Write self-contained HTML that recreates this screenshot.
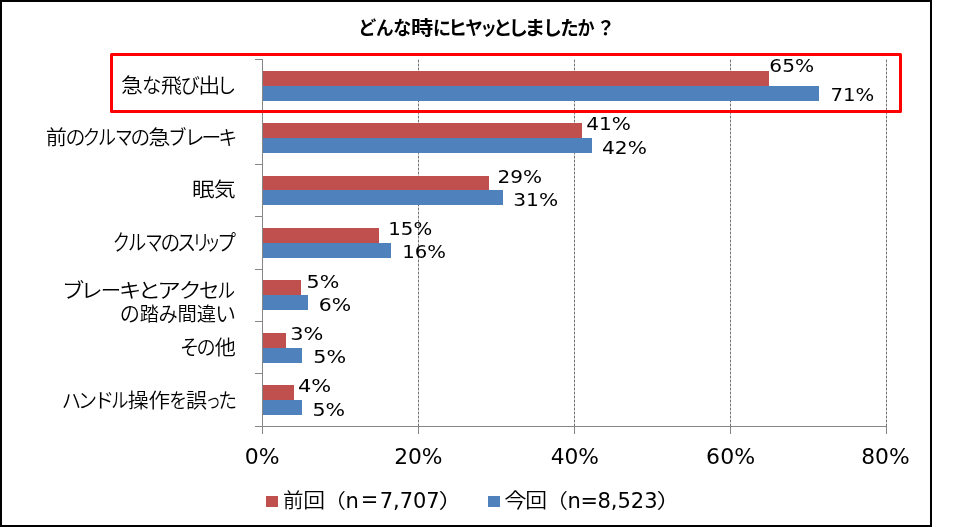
<!DOCTYPE html>
<html lang="ja">
<head>
<meta charset="utf-8">
<title>どんな時にヒヤッとしましたか？</title>
<style>
html,body{margin:0;padding:0;background:#fff;}
body{width:975px;height:527px;overflow:hidden;}
svg{display:block;}
text{fill:#000;}
.cjk{font-family:"Liberation Sans","Noto Sans CJK JP",sans-serif;}
.num{font-family:"DejaVu Sans","Liberation Sans",sans-serif;}
.mix{font-family:"DejaVu Sans","Liberation Sans","Noto Sans CJK JP",sans-serif;}
</style>
</head>
<body>
<svg width="975" height="527" viewBox="0 0 975 527">
<rect x="0" y="0" width="975" height="527" fill="#fff"/>
<!-- chart frame -->
<rect x="1" y="1" width="930" height="525" fill="none" stroke="#000" stroke-width="2" shape-rendering="crispEdges"/>
<!-- gridlines -->
<g stroke="#727272" stroke-width="1" stroke-dasharray="2.75 1.25" stroke-dashoffset="3.375">
<line x1="418.5" y1="59" x2="418.5" y2="426"/>
<line x1="574.5" y1="59" x2="574.5" y2="426"/>
<line x1="730.5" y1="59" x2="730.5" y2="426"/>
<line x1="886.5" y1="59" x2="886.5" y2="426"/>
</g>
<!-- bars -->
<g shape-rendering="crispEdges">
<rect x="263" y="71" width="506" height="15" fill="#C0504D"/>
<rect x="263" y="86" width="556" height="15" fill="#4F81BD"/>
<rect x="263" y="123" width="319" height="15" fill="#C0504D"/>
<rect x="263" y="138" width="329" height="15" fill="#4F81BD"/>
<rect x="263" y="176" width="226" height="14" fill="#C0504D"/>
<rect x="263" y="190" width="240" height="15" fill="#4F81BD"/>
<rect x="263" y="228" width="116" height="15" fill="#C0504D"/>
<rect x="263" y="243" width="128" height="15" fill="#4F81BD"/>
<rect x="263" y="280" width="38" height="15" fill="#C0504D"/>
<rect x="263" y="295" width="45" height="15" fill="#4F81BD"/>
<rect x="263" y="333" width="23" height="15" fill="#C0504D"/>
<rect x="263" y="348" width="39" height="15" fill="#4F81BD"/>
<rect x="263" y="385" width="31" height="15" fill="#C0504D"/>
<rect x="263" y="400" width="39" height="15" fill="#4F81BD"/>
</g>
<!-- axes -->
<g stroke="#868686" stroke-width="1" fill="none" shape-rendering="crispEdges">
<line x1="262.5" y1="59" x2="262.5" y2="434"/>
<line x1="255" y1="426.5" x2="887" y2="426.5"/>
<line x1="255" y1="59.5" x2="263" y2="59.5"/>
<line x1="255" y1="111.5" x2="263" y2="111.5"/>
<line x1="255" y1="164.5" x2="263" y2="164.5"/>
<line x1="255" y1="216.5" x2="263" y2="216.5"/>
<line x1="255" y1="269.5" x2="263" y2="269.5"/>
<line x1="255" y1="321.5" x2="263" y2="321.5"/>
<line x1="255" y1="373.5" x2="263" y2="373.5"/>
<line x1="418.5" y1="426" x2="418.5" y2="434"/>
<line x1="574.5" y1="426" x2="574.5" y2="434"/>
<line x1="730.5" y1="426" x2="730.5" y2="434"/>
<line x1="886.5" y1="426" x2="886.5" y2="434"/>
</g>
<!-- highlight box -->
<rect x="111.5" y="54.5" width="789" height="57" fill="none" stroke="#FF0000" stroke-width="3" stroke-linejoin="round"/>
<!-- legend markers -->
<rect x="266" y="496" width="12" height="11" fill="#C0504D" shape-rendering="crispEdges"/>
<rect x="488" y="496" width="12" height="11" fill="#4F81BD" shape-rendering="crispEdges"/>
<!-- text -->
<text class="cjk" y="34.65" font-size="19.17" font-weight="bold" aria-label="どんな時にヒヤッとしましたか？"><tspan x="358.2" textLength="18.08" lengthAdjust="spacingAndGlyphs">ど</tspan><tspan x="375.98" textLength="17.62" lengthAdjust="spacingAndGlyphs">ん</tspan><tspan x="393.32" textLength="18.03" lengthAdjust="spacingAndGlyphs">な</tspan><tspan x="411.04" textLength="22.32" lengthAdjust="spacingAndGlyphs">時</tspan><tspan x="433.02" textLength="18.04" lengthAdjust="spacingAndGlyphs">に</tspan><tspan x="448.24" textLength="18.71" lengthAdjust="spacingAndGlyphs">ヒ</tspan><tspan x="465.19" textLength="17.47" lengthAdjust="spacingAndGlyphs">ヤ</tspan><tspan x="480.55" textLength="16.3" lengthAdjust="spacingAndGlyphs">ッ</tspan><tspan x="493.21" textLength="19.08" lengthAdjust="spacingAndGlyphs">と</tspan><tspan x="508.64" textLength="19.44" lengthAdjust="spacingAndGlyphs">し</tspan><tspan x="524.56" textLength="20.86" lengthAdjust="spacingAndGlyphs">ま</tspan><tspan x="543.06" textLength="18.87" lengthAdjust="spacingAndGlyphs">し</tspan><tspan x="560.31" textLength="18.49" lengthAdjust="spacingAndGlyphs">た</tspan><tspan x="577.41" textLength="17.05" lengthAdjust="spacingAndGlyphs">か</tspan><tspan x="596.22" textLength="18.86" lengthAdjust="spacingAndGlyphs">？</tspan></text>
<text class="cjk" y="93.2" font-size="20.41" font-weight="350" aria-label="急な飛び出し"><tspan x="121.13" textLength="21.84" lengthAdjust="spacingAndGlyphs">急</tspan><tspan x="141.89" textLength="19.45" lengthAdjust="spacingAndGlyphs">な</tspan><tspan x="161.03" textLength="20.94" lengthAdjust="spacingAndGlyphs">飛</tspan><tspan x="180.6" textLength="19.43" lengthAdjust="spacingAndGlyphs">び</tspan><tspan x="198.37" textLength="22.06" lengthAdjust="spacingAndGlyphs">出</tspan><tspan x="216.98" textLength="19.25" lengthAdjust="spacingAndGlyphs">し</tspan></text>
<text class="cjk" y="145.3" font-size="20.52" font-weight="350" aria-label="前のクルマの急ブレーキ"><tspan x="45.87" textLength="21.2" lengthAdjust="spacingAndGlyphs">前</tspan><tspan x="65.56" textLength="19.91" lengthAdjust="spacingAndGlyphs">の</tspan><tspan x="82.77" textLength="17.62" lengthAdjust="spacingAndGlyphs">ク</tspan><tspan x="97.98" textLength="18.02" lengthAdjust="spacingAndGlyphs">ル</tspan><tspan x="114.97" textLength="17.65" lengthAdjust="spacingAndGlyphs">マ</tspan><tspan x="130.38" textLength="19.66" lengthAdjust="spacingAndGlyphs">の</tspan><tspan x="148.32" textLength="22.2" lengthAdjust="spacingAndGlyphs">急</tspan><tspan x="168.36" textLength="18.24" lengthAdjust="spacingAndGlyphs">ブ</tspan><tspan x="184.74" textLength="19.71" lengthAdjust="spacingAndGlyphs">レ</tspan><tspan x="201.58" textLength="19.71" lengthAdjust="spacingAndGlyphs">ー</tspan><tspan x="218.45" textLength="18.73" lengthAdjust="spacingAndGlyphs">キ</tspan></text>
<text class="cjk" y="197.28" font-size="20.2" font-weight="350" aria-label="眠気"><tspan x="192.13" textLength="22.47" lengthAdjust="spacingAndGlyphs">眠</tspan><tspan x="213.72" textLength="21.92" lengthAdjust="spacingAndGlyphs">気</tspan></text>
<text class="cjk" y="250.48" font-size="21.39" font-weight="350" aria-label="クルマのスリップ"><tspan x="112.87" textLength="17.36" lengthAdjust="spacingAndGlyphs">ク</tspan><tspan x="127.91" textLength="18.26" lengthAdjust="spacingAndGlyphs">ル</tspan><tspan x="145.16" textLength="17.47" lengthAdjust="spacingAndGlyphs">マ</tspan><tspan x="160.56" textLength="19.7" lengthAdjust="spacingAndGlyphs">の</tspan><tspan x="176.99" textLength="19.14" lengthAdjust="spacingAndGlyphs">ス</tspan><tspan x="192.28" textLength="17.65" lengthAdjust="spacingAndGlyphs">リ</tspan><tspan x="204.21" textLength="16.49" lengthAdjust="spacingAndGlyphs">ッ</tspan><tspan x="217.27" textLength="18.76" lengthAdjust="spacingAndGlyphs">プ</tspan></text>
<text class="cjk" y="298.02" font-size="20.06" font-weight="350" aria-label="ブレーキとアクセル"><tspan x="62.05" textLength="22.25" lengthAdjust="spacingAndGlyphs">ブ</tspan><tspan x="80.53" textLength="22.14" lengthAdjust="spacingAndGlyphs">レ</tspan><tspan x="100.86" textLength="20.44" lengthAdjust="spacingAndGlyphs">ー</tspan><tspan x="118.9" textLength="22.29" lengthAdjust="spacingAndGlyphs">キ</tspan><tspan x="137.66" textLength="23.29" lengthAdjust="spacingAndGlyphs">と</tspan><tspan x="157.35" textLength="23.7" lengthAdjust="spacingAndGlyphs">ア</tspan><tspan x="178.72" textLength="23.0" lengthAdjust="spacingAndGlyphs">ク</tspan><tspan x="198.92" textLength="20.49" lengthAdjust="spacingAndGlyphs">セ</tspan><tspan x="217.16" textLength="17.88" lengthAdjust="spacingAndGlyphs">ル</tspan></text>
<text class="cjk" y="320.7" font-size="19.01" font-weight="350" aria-label="の踏み間違い"><tspan x="119.67" textLength="20.17" lengthAdjust="spacingAndGlyphs" font-size="20.91">の</tspan><tspan x="139.74" textLength="19.18" lengthAdjust="spacingAndGlyphs">踏</tspan><tspan x="158.52" textLength="19.25" lengthAdjust="spacingAndGlyphs" font-size="20.91">み</tspan><tspan x="177.62" textLength="19.32" lengthAdjust="spacingAndGlyphs">間</tspan><tspan x="196.74" textLength="19.34" lengthAdjust="spacingAndGlyphs">違</tspan><tspan x="215.18" textLength="20.71" lengthAdjust="spacingAndGlyphs" font-size="20.91">い</tspan></text>
<text class="cjk" y="355.38" font-size="20.52" font-weight="350" aria-label="その他"><tspan x="180.1" textLength="19.16" lengthAdjust="spacingAndGlyphs">そ</tspan><tspan x="196.53" textLength="19.16" lengthAdjust="spacingAndGlyphs">の</tspan><tspan x="214.69" textLength="21.12" lengthAdjust="spacingAndGlyphs">他</tspan></text>
<text class="cjk" y="407.55" font-size="20.52" font-weight="350" aria-label="ハンドル操作を誤った"><tspan x="61.75" textLength="19.32" lengthAdjust="spacingAndGlyphs">ハ</tspan><tspan x="78.12" textLength="19.03" lengthAdjust="spacingAndGlyphs">ン</tspan><tspan x="93.54" textLength="20.89" lengthAdjust="spacingAndGlyphs">ド</tspan><tspan x="111.34" textLength="17.22" lengthAdjust="spacingAndGlyphs">ル</tspan><tspan x="127.83" textLength="20.96" lengthAdjust="spacingAndGlyphs">操</tspan><tspan x="148.61" textLength="21.61" lengthAdjust="spacingAndGlyphs">作</tspan><tspan x="169.36" textLength="17.73" lengthAdjust="spacingAndGlyphs">を</tspan><tspan x="186.13" textLength="21.07" lengthAdjust="spacingAndGlyphs">誤</tspan><tspan x="205.73" textLength="15.11" lengthAdjust="spacingAndGlyphs">っ</tspan><tspan x="218.17" textLength="18.79" lengthAdjust="spacingAndGlyphs">た</tspan></text>
<text class="num" y="71.6" font-size="18.5" aria-label="65%"><tspan x="769.34" textLength="44.79" lengthAdjust="spacingAndGlyphs">65%</tspan></text>
<text class="num" y="100.9" font-size="18.5" aria-label="71%"><tspan x="830.4" textLength="43.8" lengthAdjust="spacingAndGlyphs">71%</tspan></text>
<text class="num" y="129.8" font-size="18.5" aria-label="41%"><tspan x="586.21" textLength="44.71" lengthAdjust="spacingAndGlyphs">41%</tspan></text>
<text class="num" y="153.9" font-size="18.5" aria-label="42%"><tspan x="602.01" textLength="44.92" lengthAdjust="spacingAndGlyphs">42%</tspan></text>
<text class="num" y="183.1" font-size="18.5" aria-label="29%"><tspan x="497.55" textLength="44.57" lengthAdjust="spacingAndGlyphs">29%</tspan></text>
<text class="num" y="205.75" font-size="18.5" aria-label="31%"><tspan x="513.26" textLength="44.86" lengthAdjust="spacingAndGlyphs">31%</tspan></text>
<text class="num" y="234.85" font-size="18.5" aria-label="15%"><tspan x="388.26" textLength="43.94" lengthAdjust="spacingAndGlyphs">15%</tspan></text>
<text class="num" y="257.75" font-size="18.5" aria-label="16%"><tspan x="402.17" textLength="43.72" lengthAdjust="spacingAndGlyphs">16%</tspan></text>
<text class="num" y="287.8" font-size="18.5" aria-label="5%"><tspan x="306.63" textLength="32.71" lengthAdjust="spacingAndGlyphs">5%</tspan></text>
<text class="num" y="310.55" font-size="18.5" aria-label="6%"><tspan x="318.82" textLength="32.4" lengthAdjust="spacingAndGlyphs">6%</tspan></text>
<text class="num" y="340.25" font-size="18.5" aria-label="3%"><tspan x="290.21" textLength="33.15" lengthAdjust="spacingAndGlyphs">3%</tspan></text>
<text class="num" y="363.05" font-size="18.5" aria-label="5%"><tspan x="313.22" textLength="32.82" lengthAdjust="spacingAndGlyphs">5%</tspan></text>
<text class="num" y="391.95" font-size="18.5" aria-label="4%"><tspan x="297.97" textLength="33.18" lengthAdjust="spacingAndGlyphs">4%</tspan></text>
<text class="num" y="415.75" font-size="18.5" aria-label="5%"><tspan x="312.43" textLength="32.6" lengthAdjust="spacingAndGlyphs">5%</tspan></text>
<text class="num" y="463.85" font-size="21.06" aria-label="0%"><tspan x="244.74" textLength="34.75" lengthAdjust="spacingAndGlyphs">0%</tspan></text>
<text class="num" y="463.85" font-size="21.06" aria-label="20%"><tspan x="394.15" textLength="48.42" lengthAdjust="spacingAndGlyphs">20%</tspan></text>
<text class="num" y="463.85" font-size="21.06" aria-label="40%"><tspan x="550.67" textLength="48.3" lengthAdjust="spacingAndGlyphs">40%</tspan></text>
<text class="num" y="463.85" font-size="21.06" aria-label="60%"><tspan x="706.13" textLength="48.95" lengthAdjust="spacingAndGlyphs">60%</tspan></text>
<text class="num" y="463.85" font-size="21.06" aria-label="80%"><tspan x="861.25" textLength="48.42" lengthAdjust="spacingAndGlyphs">80%</tspan></text>
<text class="mix" y="507.92" font-size="20.0" aria-label="前回（n＝7,707）"><tspan x="282.98" textLength="20.44" lengthAdjust="spacingAndGlyphs" font-weight="350">前</tspan><tspan x="303.39" textLength="21.82" lengthAdjust="spacingAndGlyphs" font-weight="350">回</tspan><tspan x="322.66" textLength="23.2" lengthAdjust="spacingAndGlyphs" font-weight="350">（</tspan><tspan x="345.4" textLength="13.34" lengthAdjust="spacingAndGlyphs" font-size="21.06">n</tspan><tspan x="360.42" textLength="18.07" lengthAdjust="spacingAndGlyphs" font-weight="500">＝</tspan><tspan x="379.66" textLength="60.0" lengthAdjust="spacingAndGlyphs" font-size="21.06">7,707</tspan><tspan x="438.52" textLength="25.6" lengthAdjust="spacingAndGlyphs" font-weight="350">）</tspan></text>
<text class="mix" y="508.22" font-size="20.0" aria-label="今回（n=8,523）"><tspan x="504.26" textLength="22.38" lengthAdjust="spacingAndGlyphs" font-weight="350">今</tspan><tspan x="525.39" textLength="21.82" lengthAdjust="spacingAndGlyphs" font-weight="350">回</tspan><tspan x="544.66" textLength="23.2" lengthAdjust="spacingAndGlyphs" font-weight="350">（</tspan><tspan x="567.4" textLength="13.34" lengthAdjust="spacingAndGlyphs" font-size="21.06">n</tspan><tspan x="580.58" textLength="17.44" lengthAdjust="spacingAndGlyphs" font-size="21.06">=</tspan><tspan x="597.4" textLength="60.27" lengthAdjust="spacingAndGlyphs" font-size="21.06">8,523</tspan><tspan x="656.52" textLength="25.6" lengthAdjust="spacingAndGlyphs" font-weight="350">）</tspan></text>
</svg>
</body>
</html>
